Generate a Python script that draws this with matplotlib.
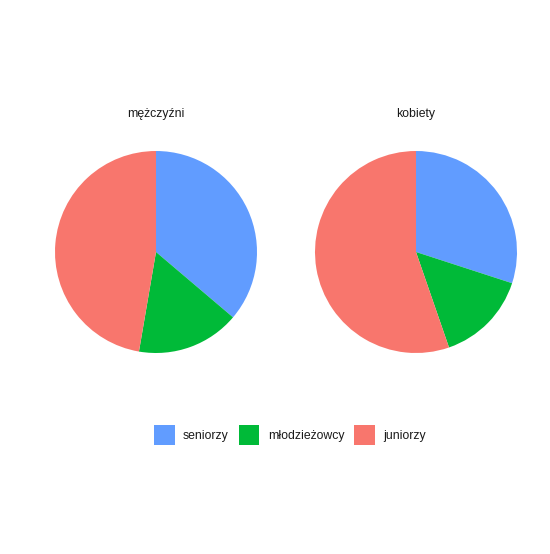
"""Pie charts: share of player groups among men and women."""

import matplotlib

matplotlib.use("Agg")
import matplotlib.pyplot as plt
from matplotlib.patches import Patch

plt.rcParams["font.family"] = ["Liberation Sans", "DejaVu Sans"]

groups = ["seniorzy", "młodzieżowcy", "juniorzy"]
colors = ["#619CFF", "#00BA38", "#F8766D"]
panels = ["mężczyźni", "kobiety"]
shares_men = [36.2, 16.5, 47.3]
shares_women = [30.0, 14.7, 55.3]

W, H = 550, 554
fig = plt.figure(figsize=(W / 100, H / 100), dpi=100)

centers_x = [156, 416]
center_y = 252
radius = 101

for title, shares, cx in zip(panels, [shares_men, shares_women], centers_x):
    ax = fig.add_axes([
        (cx - radius) / W,
        1 - (center_y + radius) / H,
        2 * radius / W,
        2 * radius / H,
    ])
    ax.pie(
        shares,
        colors=colors,
        startangle=90,
        counterclock=False,
        radius=1,
        wedgeprops={"linewidth": 0, "antialiased": True},
    )
    ax.set_xlim(-1, 1)
    ax.set_ylim(-1, 1)
    ax.set_aspect("equal")
    ax.axis("off")
    fig.text(cx / W, 1 - 114 / H, title, ha="center", va="center",
             fontsize=8.8, color="#1A1A1A")

# square legend keys, ggplot-style, below the panels
handles = [Patch(facecolor=c, edgecolor="none", label=g) for g, c in zip(groups, colors)]
fig.legend(
    handles=handles,
    loc="center",
    bbox_to_anchor=(290 / W, 1 - 435 / H),
    ncol=3,
    frameon=False,
    fontsize=8.8,
    handlelength=1.7,
    handleheight=2.24,
    handletextpad=0.7,
    columnspacing=0.8,
    labelcolor="#1A1A1A",
)

fig.savefig("out.png", dpi=100, facecolor="white")
